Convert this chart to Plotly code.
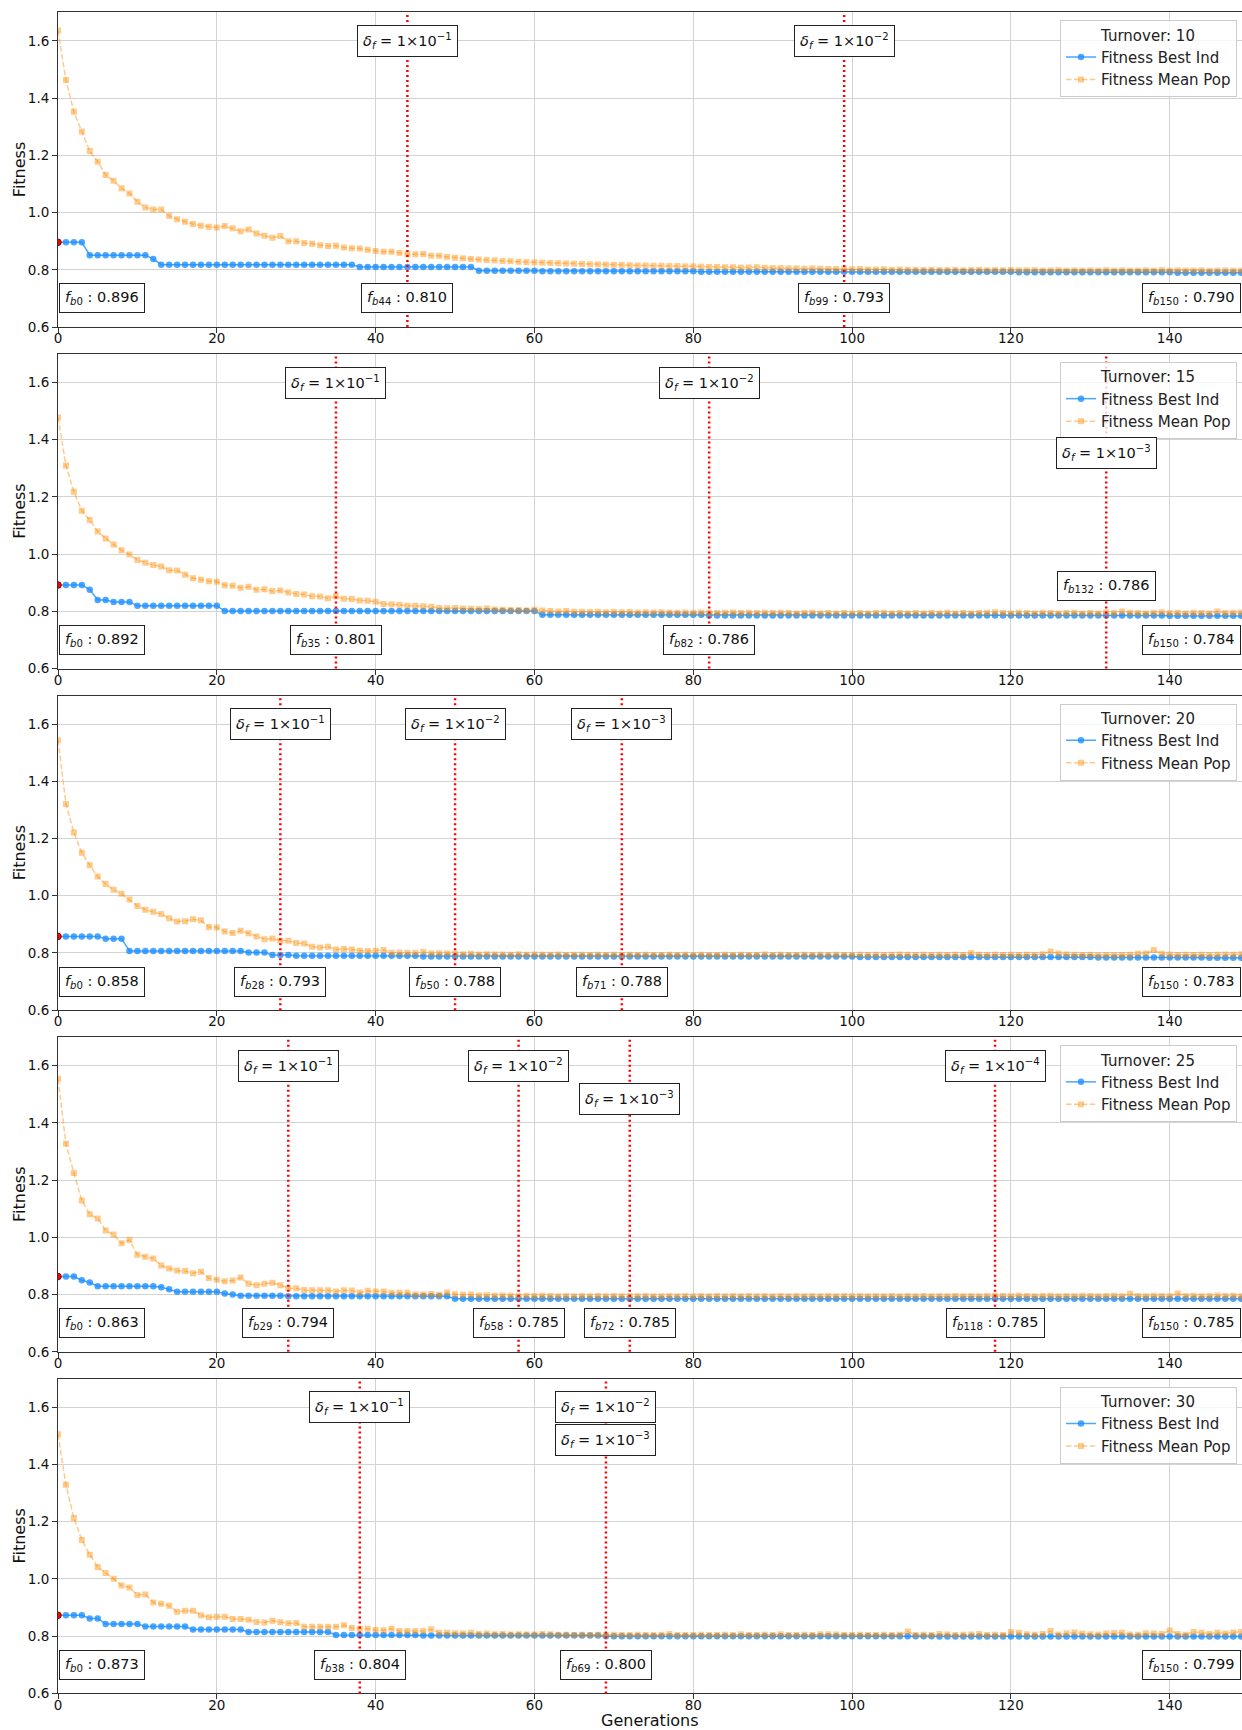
import plotly.graph_objects as go

# ---------------- DATA ----------------
generations = list(range(151))
turnovers = [10, 15, 20, 25, 30]
x_ticks = [0, 20, 40, 60, 80, 100, 120, 140]
y_ticks = [0.6, 0.8, 1.0, 1.2, 1.4, 1.6]

best_t10 = [
    0.896, 0.896, 0.896, 0.896, 0.851, 0.851, 0.851, 0.851, 0.851, 0.851,
    0.851, 0.851, 0.838, 0.818, 0.818, 0.818, 0.818, 0.818, 0.818, 0.818,
    0.818, 0.818, 0.818, 0.818, 0.818, 0.818, 0.818, 0.818, 0.818, 0.818,
    0.818, 0.818, 0.818, 0.818, 0.818, 0.818, 0.818, 0.818, 0.810, 0.810,
    0.810, 0.810, 0.810, 0.810, 0.810, 0.810, 0.810, 0.810, 0.810, 0.810,
    0.810, 0.810, 0.810, 0.797, 0.797, 0.797, 0.797, 0.797, 0.797, 0.797,
    0.797, 0.795, 0.795, 0.795, 0.795, 0.795, 0.795, 0.795, 0.795, 0.795,
    0.795, 0.795, 0.795, 0.795, 0.795, 0.795, 0.795, 0.795, 0.795, 0.795,
    0.795, 0.793, 0.793, 0.793, 0.793, 0.793, 0.793, 0.793, 0.793, 0.793,
    0.793, 0.793, 0.793, 0.793, 0.793, 0.793, 0.793, 0.793, 0.793, 0.793,
    0.793, 0.793, 0.793, 0.793, 0.793, 0.793, 0.793, 0.793, 0.793, 0.793,
    0.793, 0.793, 0.793, 0.793, 0.793, 0.793, 0.793, 0.793, 0.793, 0.793,
    0.793, 0.791, 0.791, 0.791, 0.791, 0.791, 0.791, 0.791, 0.791, 0.791,
    0.791, 0.791, 0.791, 0.791, 0.791, 0.791, 0.791, 0.791, 0.791, 0.791,
    0.791, 0.790, 0.790, 0.790, 0.790, 0.790, 0.790, 0.790, 0.790, 0.790,
    0.790,
]
mean_t10 = [
    1.636, 1.463, 1.352, 1.283, 1.215, 1.178, 1.131, 1.111, 1.085, 1.067,
    1.038, 1.018, 1.011, 1.011, 0.988, 0.977, 0.968, 0.960, 0.954, 0.950,
    0.948, 0.953, 0.945, 0.935, 0.941, 0.927, 0.919, 0.912, 0.918, 0.900,
    0.900, 0.894, 0.891, 0.886, 0.883, 0.884, 0.878, 0.875, 0.874, 0.870,
    0.866, 0.863, 0.863, 0.859, 0.854, 0.854, 0.855, 0.849, 0.849, 0.845,
    0.842, 0.840, 0.838, 0.836, 0.834, 0.833, 0.831, 0.830, 0.828, 0.827,
    0.826, 0.825, 0.824, 0.823, 0.822, 0.821, 0.820, 0.819, 0.819, 0.818,
    0.817, 0.817, 0.816, 0.815, 0.815, 0.814, 0.814, 0.813, 0.813, 0.812,
    0.812, 0.811, 0.810, 0.810, 0.809, 0.809, 0.808, 0.808, 0.809, 0.807,
    0.806, 0.806, 0.805, 0.805, 0.804, 0.805, 0.804, 0.803, 0.803, 0.802,
    0.802, 0.803, 0.801, 0.801, 0.802, 0.800, 0.801, 0.800, 0.800, 0.799,
    0.800, 0.799, 0.799, 0.800, 0.798, 0.799, 0.800, 0.798, 0.799, 0.798,
    0.799, 0.798, 0.798, 0.799, 0.797, 0.798, 0.799, 0.797, 0.798, 0.797,
    0.798, 0.797, 0.799, 0.797, 0.798, 0.797, 0.797, 0.798, 0.797, 0.799,
    0.797, 0.798, 0.797, 0.797, 0.798, 0.796, 0.797, 0.798, 0.797, 0.797,
    0.798,
]

best_t15 = [
    0.892, 0.892, 0.892, 0.892, 0.876, 0.840, 0.840, 0.833, 0.833, 0.833,
    0.820, 0.820, 0.820, 0.820, 0.820, 0.820, 0.820, 0.820, 0.820, 0.820,
    0.820, 0.801, 0.801, 0.801, 0.801, 0.801, 0.801, 0.801, 0.801, 0.801,
    0.801, 0.801, 0.801, 0.801, 0.801, 0.801, 0.801, 0.801, 0.801, 0.801,
    0.801, 0.801, 0.801, 0.801, 0.801, 0.801, 0.801, 0.801, 0.801, 0.801,
    0.801, 0.801, 0.801, 0.801, 0.801, 0.801, 0.801, 0.801, 0.801, 0.801,
    0.801, 0.788, 0.788, 0.788, 0.788, 0.788, 0.788, 0.788, 0.788, 0.788,
    0.788, 0.788, 0.788, 0.788, 0.788, 0.788, 0.788, 0.788, 0.788, 0.788,
    0.788, 0.788, 0.786, 0.786, 0.786, 0.786, 0.786, 0.786, 0.786, 0.786,
    0.786, 0.786, 0.786, 0.786, 0.786, 0.786, 0.786, 0.786, 0.786, 0.786,
    0.786, 0.786, 0.786, 0.786, 0.786, 0.786, 0.786, 0.786, 0.786, 0.786,
    0.786, 0.786, 0.786, 0.786, 0.786, 0.786, 0.786, 0.786, 0.786, 0.786,
    0.786, 0.786, 0.786, 0.786, 0.786, 0.786, 0.786, 0.786, 0.786, 0.786,
    0.786, 0.786, 0.786, 0.786, 0.786, 0.786, 0.786, 0.786, 0.786, 0.786,
    0.785, 0.785, 0.785, 0.785, 0.785, 0.785, 0.785, 0.785, 0.785, 0.785,
    0.784,
]
mean_t15 = [
    1.478, 1.310, 1.218, 1.152, 1.119, 1.079, 1.055, 1.034, 1.014, 0.999,
    0.980, 0.970, 0.962, 0.957, 0.944, 0.943, 0.928, 0.916, 0.911, 0.905,
    0.904, 0.891, 0.890, 0.883, 0.886, 0.876, 0.877, 0.871, 0.873, 0.866,
    0.861, 0.859, 0.853, 0.852, 0.846, 0.853, 0.844, 0.843, 0.838, 0.837,
    0.834, 0.826, 0.825, 0.823, 0.820, 0.820, 0.818, 0.816, 0.812, 0.811,
    0.812, 0.810, 0.809, 0.808, 0.810, 0.807, 0.806, 0.805, 0.805, 0.803,
    0.806, 0.803, 0.801, 0.800, 0.801, 0.799, 0.799, 0.798, 0.799, 0.797,
    0.798, 0.797, 0.798, 0.796, 0.797, 0.796, 0.797, 0.796, 0.795, 0.796,
    0.795, 0.796, 0.795, 0.794, 0.795, 0.796, 0.794, 0.795, 0.794, 0.795,
    0.794, 0.795, 0.794, 0.793, 0.794, 0.795, 0.793, 0.794, 0.793, 0.794,
    0.793, 0.794, 0.793, 0.794, 0.795, 0.793, 0.794, 0.793, 0.794, 0.793,
    0.794, 0.793, 0.795, 0.793, 0.794, 0.793, 0.794, 0.795, 0.797, 0.794,
    0.793, 0.795, 0.794, 0.793, 0.795, 0.794, 0.793, 0.794, 0.795, 0.793,
    0.794, 0.793, 0.796, 0.794, 0.800, 0.795, 0.794, 0.793, 0.795, 0.797,
    0.794, 0.795, 0.793, 0.795, 0.794, 0.793, 0.800, 0.794, 0.795, 0.796,
    0.794,
]

best_t20 = [
    0.858, 0.858, 0.858, 0.858, 0.858, 0.858, 0.850, 0.850, 0.850, 0.807,
    0.807, 0.807, 0.807, 0.807, 0.807, 0.807, 0.807, 0.807, 0.807, 0.807,
    0.807, 0.807, 0.807, 0.807, 0.802, 0.802, 0.802, 0.793, 0.793, 0.793,
    0.790, 0.790, 0.790, 0.790, 0.790, 0.790, 0.790, 0.790, 0.790, 0.790,
    0.790, 0.790, 0.790, 0.790, 0.790, 0.790, 0.788, 0.788, 0.788, 0.788,
    0.788, 0.788, 0.788, 0.788, 0.788, 0.788, 0.788, 0.788, 0.788, 0.788,
    0.788, 0.788, 0.788, 0.788, 0.788, 0.788, 0.788, 0.788, 0.788, 0.788,
    0.788, 0.788, 0.788, 0.788, 0.788, 0.788, 0.788, 0.788, 0.788, 0.788,
    0.788, 0.788, 0.788, 0.788, 0.788, 0.788, 0.788, 0.788, 0.788, 0.788,
    0.788, 0.788, 0.788, 0.788, 0.788, 0.788, 0.788, 0.788, 0.788, 0.788,
    0.788, 0.786, 0.786, 0.786, 0.786, 0.786, 0.786, 0.786, 0.786, 0.786,
    0.786, 0.786, 0.786, 0.786, 0.786, 0.786, 0.786, 0.786, 0.786, 0.786,
    0.786, 0.786, 0.786, 0.786, 0.786, 0.786, 0.786, 0.786, 0.786, 0.786,
    0.786, 0.784, 0.784, 0.784, 0.784, 0.784, 0.784, 0.784, 0.784, 0.784,
    0.784, 0.784, 0.784, 0.784, 0.784, 0.783, 0.783, 0.783, 0.783, 0.783,
    0.783,
]
mean_t20 = [
    1.544, 1.321, 1.221, 1.150, 1.107, 1.067, 1.041, 1.021, 1.007, 0.987,
    0.964, 0.951, 0.944, 0.936, 0.921, 0.910, 0.911, 0.918, 0.914, 0.891,
    0.889, 0.875, 0.870, 0.878, 0.869, 0.858, 0.848, 0.851, 0.843, 0.843,
    0.835, 0.833, 0.822, 0.819, 0.822, 0.812, 0.814, 0.812, 0.808, 0.807,
    0.808, 0.810, 0.801, 0.802, 0.801, 0.801, 0.803, 0.798, 0.799, 0.798,
    0.797, 0.796, 0.797, 0.795, 0.796, 0.795, 0.795, 0.794, 0.796, 0.794,
    0.795, 0.794, 0.794, 0.795, 0.793, 0.794, 0.794, 0.793, 0.794, 0.793,
    0.794, 0.793, 0.794, 0.793, 0.794, 0.793, 0.793, 0.794, 0.793, 0.794,
    0.793, 0.794, 0.793, 0.793, 0.794, 0.793, 0.794, 0.793, 0.793, 0.795,
    0.793, 0.794, 0.793, 0.793, 0.794, 0.793, 0.794, 0.793, 0.794, 0.793,
    0.793, 0.794, 0.793, 0.794, 0.793, 0.794, 0.795, 0.794, 0.793, 0.794,
    0.793, 0.794, 0.793, 0.794, 0.793, 0.800, 0.794, 0.793, 0.794, 0.793,
    0.794, 0.793, 0.794, 0.793, 0.796, 0.805, 0.798, 0.795, 0.794, 0.793,
    0.794, 0.792, 0.793, 0.792, 0.793, 0.794, 0.797, 0.798, 0.810, 0.797,
    0.795, 0.793, 0.794, 0.793, 0.794, 0.793, 0.794, 0.795, 0.794, 0.796,
    0.797,
]

best_t25 = [
    0.863, 0.863, 0.863, 0.850, 0.842, 0.829, 0.829, 0.829, 0.829, 0.829,
    0.829, 0.829, 0.829, 0.826, 0.819, 0.810, 0.810, 0.810, 0.810, 0.810,
    0.810, 0.804, 0.800, 0.796, 0.796, 0.796, 0.796, 0.796, 0.796, 0.794,
    0.794, 0.794, 0.794, 0.794, 0.794, 0.794, 0.794, 0.794, 0.794, 0.794,
    0.794, 0.794, 0.794, 0.794, 0.794, 0.794, 0.794, 0.794, 0.794, 0.794,
    0.785, 0.785, 0.785, 0.785, 0.785, 0.785, 0.785, 0.785, 0.785, 0.785,
    0.785, 0.785, 0.785, 0.785, 0.785, 0.785, 0.785, 0.785, 0.785, 0.785,
    0.785, 0.785, 0.785, 0.785, 0.785, 0.785, 0.785, 0.785, 0.785, 0.785,
    0.785, 0.785, 0.785, 0.785, 0.785, 0.785, 0.785, 0.785, 0.785, 0.785,
    0.785, 0.785, 0.785, 0.785, 0.785, 0.785, 0.785, 0.785, 0.785, 0.785,
    0.785, 0.785, 0.785, 0.785, 0.785, 0.785, 0.785, 0.785, 0.785, 0.785,
    0.785, 0.785, 0.785, 0.785, 0.785, 0.785, 0.785, 0.785, 0.785, 0.785,
    0.785, 0.785, 0.785, 0.785, 0.785, 0.785, 0.785, 0.785, 0.785, 0.785,
    0.785, 0.785, 0.785, 0.785, 0.785, 0.785, 0.785, 0.785, 0.785, 0.785,
    0.785, 0.785, 0.785, 0.785, 0.785, 0.785, 0.785, 0.785, 0.785, 0.785,
    0.785,
]
mean_t25 = [
    1.554, 1.327, 1.225, 1.129, 1.081, 1.066, 1.024, 1.010, 0.979, 0.991,
    0.939, 0.932, 0.926, 0.902, 0.891, 0.884, 0.882, 0.875, 0.880, 0.858,
    0.852, 0.847, 0.849, 0.860, 0.838, 0.833, 0.838, 0.841, 0.833, 0.822,
    0.822, 0.816, 0.815, 0.815, 0.815, 0.811, 0.815, 0.814, 0.807, 0.813,
    0.811, 0.811, 0.806, 0.806, 0.806, 0.800, 0.800, 0.802, 0.799, 0.807,
    0.801, 0.799, 0.800, 0.797, 0.798, 0.796, 0.797, 0.796, 0.795, 0.796,
    0.795, 0.796, 0.795, 0.794, 0.795, 0.794, 0.795, 0.794, 0.795, 0.794,
    0.795, 0.794, 0.795, 0.794, 0.795, 0.794, 0.794, 0.795, 0.794, 0.795,
    0.794, 0.795, 0.794, 0.795, 0.794, 0.795, 0.794, 0.795, 0.794, 0.795,
    0.794, 0.795, 0.794, 0.795, 0.794, 0.795, 0.794, 0.795, 0.794, 0.795,
    0.794, 0.795, 0.794, 0.795, 0.794, 0.795, 0.794, 0.795, 0.794, 0.795,
    0.794, 0.795, 0.794, 0.795, 0.794, 0.795, 0.794, 0.795, 0.796, 0.795,
    0.794, 0.796, 0.795, 0.794, 0.795, 0.796, 0.794, 0.795, 0.794, 0.796,
    0.795, 0.794, 0.795, 0.796, 0.794, 0.803, 0.795, 0.794, 0.796, 0.795,
    0.794, 0.804, 0.795, 0.796, 0.794, 0.795, 0.797, 0.795, 0.796, 0.794,
    0.795,
]

best_t30 = [
    0.873, 0.873, 0.873, 0.873, 0.862, 0.862, 0.843, 0.843, 0.843, 0.843,
    0.843, 0.834, 0.834, 0.834, 0.834, 0.834, 0.834, 0.823, 0.823, 0.823,
    0.823, 0.823, 0.823, 0.823, 0.815, 0.815, 0.815, 0.815, 0.815, 0.815,
    0.815, 0.815, 0.815, 0.815, 0.815, 0.804, 0.804, 0.804, 0.804, 0.804,
    0.804, 0.804, 0.804, 0.804, 0.804, 0.804, 0.802, 0.802, 0.802, 0.802,
    0.802, 0.802, 0.802, 0.802, 0.802, 0.802, 0.802, 0.802, 0.802, 0.802,
    0.802, 0.802, 0.802, 0.802, 0.802, 0.802, 0.802, 0.802, 0.802, 0.800,
    0.800, 0.800, 0.800, 0.800, 0.800, 0.800, 0.800, 0.800, 0.800, 0.800,
    0.800, 0.800, 0.800, 0.800, 0.800, 0.800, 0.800, 0.800, 0.800, 0.800,
    0.800, 0.800, 0.800, 0.800, 0.800, 0.800, 0.800, 0.800, 0.800, 0.800,
    0.800, 0.800, 0.800, 0.800, 0.800, 0.800, 0.800, 0.800, 0.800, 0.800,
    0.800, 0.799, 0.799, 0.799, 0.799, 0.799, 0.799, 0.799, 0.799, 0.799,
    0.799, 0.799, 0.799, 0.799, 0.799, 0.799, 0.799, 0.799, 0.799, 0.799,
    0.799, 0.799, 0.799, 0.799, 0.799, 0.799, 0.799, 0.799, 0.799, 0.799,
    0.799, 0.799, 0.799, 0.799, 0.799, 0.799, 0.799, 0.799, 0.799, 0.799,
    0.799,
]
mean_t30 = [
    1.506, 1.329, 1.213, 1.136, 1.085, 1.042, 1.021, 1.001, 0.977, 0.970,
    0.944, 0.946, 0.918, 0.913, 0.906, 0.885, 0.889, 0.889, 0.873, 0.866,
    0.868, 0.868, 0.860, 0.860, 0.857, 0.850, 0.848, 0.854, 0.849, 0.845,
    0.846, 0.833, 0.833, 0.833, 0.833, 0.833, 0.838, 0.829, 0.826, 0.826,
    0.822, 0.821, 0.826, 0.818, 0.818, 0.818, 0.818, 0.824, 0.812, 0.812,
    0.810, 0.809, 0.812, 0.808, 0.809, 0.807, 0.808, 0.806, 0.807, 0.806,
    0.806, 0.808, 0.807, 0.805, 0.805, 0.804, 0.805, 0.804, 0.805, 0.804,
    0.805, 0.804, 0.804, 0.805, 0.804, 0.804, 0.805, 0.808, 0.804, 0.804,
    0.804, 0.805, 0.804, 0.804, 0.805, 0.804, 0.807, 0.804, 0.804, 0.805,
    0.804, 0.807, 0.804, 0.804, 0.805, 0.804, 0.807, 0.807, 0.806, 0.804,
    0.804, 0.805, 0.804, 0.804, 0.805, 0.804, 0.805, 0.816, 0.804, 0.805,
    0.804, 0.808, 0.806, 0.804, 0.805, 0.806, 0.808, 0.804, 0.805, 0.804,
    0.815, 0.812, 0.807, 0.805, 0.808, 0.818, 0.806, 0.810, 0.813, 0.809,
    0.807, 0.806, 0.809, 0.811, 0.812, 0.806, 0.805, 0.810, 0.809, 0.808,
    0.820, 0.808, 0.805, 0.815, 0.812, 0.808, 0.812, 0.809, 0.813, 0.815,
    0.810,
]

# convergence thresholds (generation where delta_f reached, exponent of 10^-k)
delta_gens_t10 = [44, 99]
delta_exps_t10 = [1, 2]
delta_gens_t15 = [35, 82, 132]
delta_exps_t15 = [1, 2, 3]
delta_gens_t20 = [28, 50, 71]
delta_exps_t20 = [1, 2, 3]
delta_gens_t25 = [29, 58, 72, 118]
delta_exps_t25 = [1, 2, 3, 4]
delta_gens_t30 = [38, 69, 69]
delta_exps_t30 = [1, 2, 3]

# best-fitness labels
fb_gens_t10 = [0, 44, 99, 150]
fb_vals_t10 = ["0.896", "0.810", "0.793", "0.790"]
fb_gens_t15 = [0, 35, 82, 132, 150]
fb_vals_t15 = ["0.892", "0.801", "0.786", "0.786", "0.784"]
fb_gens_t20 = [0, 28, 50, 71, 150]
fb_vals_t20 = ["0.858", "0.793", "0.788", "0.788", "0.783"]
fb_gens_t25 = [0, 29, 58, 72, 118, 150]
fb_vals_t25 = ["0.863", "0.794", "0.785", "0.785", "0.785", "0.785"]
fb_gens_t30 = [0, 38, 69, 150]
fb_vals_t30 = ["0.873", "0.804", "0.800", "0.799"]

panels = [
    (10, best_t10, mean_t10, delta_gens_t10, delta_exps_t10, fb_gens_t10, fb_vals_t10),
    (15, best_t15, mean_t15, delta_gens_t15, delta_exps_t15, fb_gens_t15, fb_vals_t15),
    (20, best_t20, mean_t20, delta_gens_t20, delta_exps_t20, fb_gens_t20, fb_vals_t20),
    (25, best_t25, mean_t25, delta_gens_t25, delta_exps_t25, fb_gens_t25, fb_vals_t25),
    (30, best_t30, mean_t30, delta_gens_t30, delta_exps_t30, fb_gens_t30, fb_vals_t30),
]
for p in panels:
    if len(p[1]) != 151 or len(p[2]) != 151:
        raise ValueError(f"bad length turnover {p[0]}: {len(p[1])} {len(p[2])}")

# ---------------- STYLE / LAYOUT ----------------
W, H = 1242, 1730
M_L, M_R, M_T, M_B = 58, 0, 12, 36
PLOT_W = W - M_L - M_R
PLOT_H = H - M_T - M_B
PANEL_TOP0 = 12.3
PANEL_PERIOD = 341.6
PANEL_H = 314.7
X_RANGE = [0, 149.1]
Y_RANGE = [0.6, 1.7]
FONT = "DejaVu Sans"
BLUE_LINE = "rgba(30,144,255,0.8)"
ORANGE = "rgba(255,140,0,0.45)"
GRID = "#d3d3d3"
AXIS = "#333333"
TEXT = "#111111"

# annotation vertical placements (data units)
delta_label_y = {10: [1.6, 1.6], 15: [1.6, 1.6, 1.355], 20: [1.6, 1.6, 1.6],
                 25: [1.6, 1.6, 1.485, 1.6], 30: [1.6, 1.6, 1.485]}
fb_label_y_override = {(15, 132): 0.89}
fb_first_x = 5.5
fb_last_x = 142.7
YTITLE_PX = 19.5       # page x of the centre of the "Fitness" labels
XTITLE_PX = 1720       # page y of the centre of "Generations"


def clamp(v):
    return min(1.0, max(0.0, v))


fig = go.Figure()
layout_axes = {}
annotations = []
shapes = []

for i, (turn, best, mean, dgens, dexps, fgens, fvals) in enumerate(panels):
    k = i + 1
    sfx = "" if k == 1 else str(k)
    xa, ya = f"x{sfx}", f"y{sfx}"
    leg = "legend" if k == 1 else f"legend{k}"
    top = PANEL_TOP0 + PANEL_PERIOD * i
    bottom = top + PANEL_H
    dom = [clamp(1 - (bottom - M_T) / PLOT_H), clamp(1 - (top - M_T) / PLOT_H)]

    fig.add_trace(go.Scatter(
        x=generations, y=best, mode="lines+markers", name="Fitness Best Ind",
        line=dict(color=BLUE_LINE, width=1.5),
        marker=dict(symbol="circle", size=6.5, color=BLUE_LINE, line=dict(width=0)),
        xaxis=xa, yaxis=ya, legend=leg, showlegend=True))
    fig.add_trace(go.Scatter(
        x=generations, y=mean, mode="lines+markers", name="Fitness Mean Pop",
        line=dict(color=ORANGE, width=1.5, dash="5.5px,2.4px"),
        marker=dict(symbol="square", size=6, color=ORANGE, line=dict(width=0)),
        xaxis=xa, yaxis=ya, legend=leg, showlegend=True))
    fig.add_trace(go.Scatter(
        x=generations[:1], y=best[:1], mode="markers",
        marker=dict(symbol="circle", size=6.5, color="red", line=dict(color="#8b0000", width=1)),
        xaxis=xa, yaxis=ya, showlegend=False, hoverinfo="skip"))

    layout_axes[f"xaxis{sfx}"] = dict(
        domain=[0, 1], anchor=ya, range=X_RANGE, tickvals=x_ticks,
        showgrid=True, gridcolor=GRID, gridwidth=1, zeroline=False,
        showline=True, linecolor=AXIS, linewidth=1, mirror=True,
        ticks="outside", ticklen=5, tickcolor=AXIS, ticklabelstandoff=-6,
        tickfont=dict(family=FONT, size=13.5, color=TEXT),
    )
    layout_axes[f"yaxis{sfx}"] = dict(
        domain=dom, anchor=xa, range=Y_RANGE, tickvals=y_ticks, tickformat=".1f",
        showgrid=True, gridcolor=GRID, gridwidth=1, zeroline=False,
        showline=True, linecolor=AXIS, linewidth=1, mirror=False,
        ticks="outside", ticklen=5, tickcolor=AXIS,
        tickfont=dict(family=FONT, size=13.5, color=TEXT),
    )

    # y-axis title
    annotations.append(dict(
        xref="paper", yref="paper", x=(YTITLE_PX - M_L) / PLOT_W,
        y=sum(dom) / 2, text="Fitness", textangle=-90, showarrow=False,
        font=dict(family=FONT, size=16, color=TEXT), xanchor="center", yanchor="middle"))

    legend_y = 1 - (top + 8 - M_T) / PLOT_H
    layout_axes[leg] = dict(
        x=(1060 - M_L) / PLOT_W, y=legend_y, xanchor="left", yanchor="top",
        bgcolor="rgba(255,255,255,0.8)", bordercolor="#cccccc", borderwidth=1,
        font=dict(family=FONT, size=15, color="#222"),
        title=dict(text=f"Turnover: {turn}", side="top center",
                   font=dict(family=FONT, size=15, color="#222")),
        tracegroupgap=0, itemwidth=30,
    )

    # vertical threshold lines
    for g in sorted(set(dgens)):
        shapes.append(dict(type="line", xref=xa, yref=f"{ya} domain", x0=g, x1=g, y0=0, y1=1,
                           line=dict(color="red", width=2.5, dash="2px,3px"), layer="above"))
    # delta labels
    for g, e, yy in zip(dgens, dexps, delta_label_y[turn]):
        annotations.append(dict(
            xref=xa, yref=ya, x=g, y=yy, showarrow=False,
            text=f"<i>δ<sub>f</sub></i> = 1×10<sup>−{e}</sup>",
            font=dict(family=FONT, size=14.5, color=TEXT),
            bgcolor="white", bordercolor="#222", borderwidth=1, borderpad=5,
            xanchor="center", yanchor="middle"))
    # best-fitness labels
    for g, v in zip(fgens, fvals):
        if g == generations[0]:
            xx = fb_first_x
        elif g == generations[-1]:
            xx = fb_last_x
        else:
            xx = g
        yy = fb_label_y_override.get((turn, g), 0.7)
        annotations.append(dict(
            xref=xa, yref=ya, x=xx, y=yy, showarrow=False,
            text=f"<i>f<sub>b</sub></i><sub>{g}</sub> : {v}",
            font=dict(family=FONT, size=14.5, color=TEXT),
            bgcolor="white", bordercolor="#222", borderwidth=1, borderpad=5,
            xanchor="center", yanchor="middle"))

# x-axis title under the last panel
annotations.append(dict(
    xref="paper", yref="paper", x=0.5, y=-(XTITLE_PX - (H - M_B)) / PLOT_H,
    text="Generations", showarrow=False,
    font=dict(family=FONT, size=16, color=TEXT), xanchor="center", yanchor="middle"))

fig.update_layout(
    width=W, height=H, autosize=False,
    margin=dict(l=M_L, r=M_R, t=M_T, b=M_B),
    paper_bgcolor="white", plot_bgcolor="white",
    font=dict(family=FONT, size=13, color=TEXT),
    annotations=annotations, shapes=shapes,
    **layout_axes,
)

fig.write_html(
    "out.html",
    config={"displayModeBar": False},
    post_script="document.body.style.margin='0';document.body.style.overflow='hidden';",
)
